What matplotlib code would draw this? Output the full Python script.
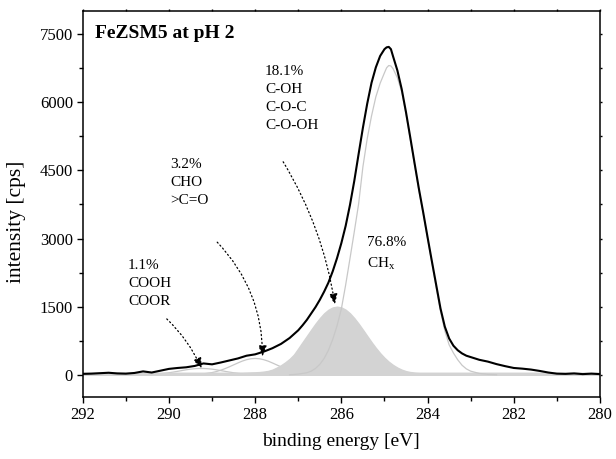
import matplotlib
matplotlib.use('Agg')
import matplotlib.pyplot as plt
from matplotlib.ticker import MultipleLocator

plt.rcParams['font.family'] = ['Liberation Serif', 'DejaVu Serif']
plt.rcParams['mathtext.fontset'] = 'custom'
plt.rcParams['mathtext.rm'] = 'Liberation Serif'

# ── Data (binding energy [eV], intensity [cps]) ───────────────────────────────
env_x = [292.0, 291.8, 291.6, 291.4, 291.2, 291.0, 290.8, 290.6, 290.4, 290.2,
         290.0, 289.8, 289.6, 289.4, 289.2, 289.0, 288.8, 288.6, 288.4, 288.2,
         288.0, 287.8, 287.6, 287.4, 287.2, 287.0, 286.9, 286.8, 286.7, 286.6,
         286.5, 286.4, 286.3, 286.2, 286.1, 286.0, 285.9, 285.8, 285.7, 285.6,
         285.5, 285.4, 285.3, 285.2, 285.1, 285.0, 284.95, 284.9, 284.85, 284.8,
         284.7, 284.6, 284.5, 284.4, 284.3, 284.2, 284.1, 284.0, 283.9, 283.8,
         283.7, 283.6, 283.5, 283.4, 283.3, 283.2, 283.1, 283.0, 282.9, 282.8,
         282.6, 282.4, 282.2, 282.0, 281.8, 281.6, 281.4, 281.2, 281.0, 280.8,
         280.6, 280.4, 280.2, 280.0]
env_y = [20, 25, 35, 45, 30, 25, 40, 75, 50, 90,
         130, 150, 165, 195, 250, 230, 270, 315, 360, 420,
         450, 510, 585, 680, 810, 980, 1090, 1210, 1350, 1490,
         1650, 1830, 2030, 2280, 2570, 2900, 3280, 3740, 4270, 4860,
         5440, 5970, 6430, 6770, 7020, 7170, 7210, 7220, 7170, 7010,
         6700, 6290, 5780, 5220, 4650, 4090, 3570, 3030, 2500, 1980,
         1460, 1060, 800, 640, 540, 470, 420, 390, 360, 330,
         290, 235, 190, 150, 135, 115, 85, 50, 25, 20,
         30, 15, 25, 15]

# CH_x component (76.8 %)
chx_x = [287.2, 287.0, 286.8, 286.7, 286.6, 286.5, 286.4, 286.3, 286.2, 286.1,
         286.0, 285.9, 285.8, 285.7, 285.6, 285.5, 285.4, 285.3, 285.2, 285.1,
         285.0, 284.95, 284.9, 284.85, 284.8, 284.7, 284.6, 284.5, 284.4, 284.3,
         284.2, 284.1, 284.0, 283.9, 283.8, 283.7, 283.6, 283.5, 283.4, 283.3,
         283.2, 283.1, 283.0, 282.8, 282.6, 282.4]
chx_y = [0, 15, 45, 80, 140, 230, 360, 540, 780, 1080,
         1450, 1980, 2560, 3150, 3760, 4580, 5200, 5700, 6120, 6420,
         6650, 6760, 6810, 6800, 6740, 6540, 6230, 5740, 5180, 4610,
         4050, 3540, 3000, 2470, 1920, 1400, 970, 660, 480, 330,
         210, 130, 80, 30, 10, 0]

# C-OH / C-O-C / C-O-OH component (18.1 %), drawn filled
co_x = [292.0, 288.6, 288.4, 288.2, 288.0, 287.9, 287.8, 287.7, 287.6, 287.5,
        287.4, 287.3, 287.2, 287.1, 287.0, 286.9, 286.8, 286.7, 286.6, 286.5,
        286.4, 286.3, 286.2, 286.1, 286.0, 285.9, 285.8, 285.7, 285.6, 285.5,
        285.4, 285.3, 285.2, 285.1, 285.0, 284.9, 284.8, 284.7, 284.6, 284.5,
        284.4, 284.3, 284.2, 284.0, 280.0]
co_y = [45, 45, 45, 50, 55, 60, 70, 85, 113, 158,
        210, 275, 350, 445, 580, 719, 855, 992, 1126, 1248,
        1353, 1433, 1483, 1500, 1483, 1433, 1353, 1248, 1126, 992,
        855, 719, 592, 476, 374, 287, 216, 158, 113, 80,
        60, 50, 45, 45, 45]

# CHO / >C=O component (3.2 %)
cho_x = [289.6, 289.4, 289.2, 289.0, 288.9, 288.8, 288.7, 288.6, 288.5, 288.4,
         288.3, 288.2, 288.1, 288.0, 287.9, 287.8, 287.7, 287.6, 287.5, 287.4,
         287.3, 287.2, 287.1, 287.0, 286.8, 286.6, 286.4]
cho_y = [2, 7, 20, 49, 71, 100, 135, 175, 218, 261,
         301, 332, 353, 360, 353, 332, 301, 261, 218, 175,
         135, 100, 71, 49, 20, 7, 2]

# COOH / COOR component (1.1 %)
cooh_x = [290.6, 290.4, 290.2, 290.0, 289.9, 289.8, 289.7, 289.6, 289.5, 289.4,
          289.3, 289.2, 289.1, 289.0, 288.9, 288.8, 288.7, 288.6, 288.5, 288.3,
          288.1, 287.9]
cooh_y = [2, 10, 23, 45, 60, 76, 93, 110, 124, 134,
          139, 139, 134, 124, 110, 93, 76, 60, 45, 23,
          10, 3]

# ── Figure ────────────────────────────────────────────────────────────────────
fig = plt.figure(figsize=(6.16, 4.59), dpi=100)
ax = fig.add_axes([0.1343, 0.134, 0.8397, 0.841])

grey_fill = '#d3d3d3'
grey_line = '#c8c8c8'

ax.plot(cooh_x, cooh_y, color=grey_line, lw=0.9, zorder=1)
ax.plot(cho_x, cho_y, color=grey_line, lw=0.9, zorder=1)
ax.fill_between(co_x, 0, co_y, facecolor=grey_fill, edgecolor=grey_fill,
                lw=1.0, zorder=2)
ax.plot(chx_x, chx_y, color=grey_line, lw=0.9, zorder=3)
ax.plot(env_x, env_y, color='black', lw=1.5, zorder=4)

# ── Annotations ───────────────────────────────────────────────────────────────
txt = dict(fontsize=11, ha='left', va='top', linespacing=1.5)
ax.text(290.95, 2560, '1.1%\nCOOH\nCOOR', **txt)
ax.text(289.97, 4780, '3.2%\nCHO\n>C=O', **txt)
ax.text(287.77, 6830, '18.1%\nC-OH\nC-O-C\nC-O-OH', **txt)
ax.text(285.41, 3060, '76.8%\nCH$_{\\mathregular{x}}$', **txt)

arrow = dict(arrowstyle='-|>,head_length=0.65,head_width=0.25', color='black',
             lw=0.9, linestyle=(0, (1, 2.2)), mutation_scale=10,
             shrinkA=0, shrinkB=0)
ax.annotate('', xy=(289.24, 130), xytext=(290.05, 1230),
            arrowprops=dict(arrow, connectionstyle='arc3,rad=-0.1'), zorder=5)
ax.annotate('', xy=(287.83, 400), xytext=(288.88, 2920),
            arrowprops=dict(arrow, connectionstyle='arc3,rad=-0.2'), zorder=5)
ax.annotate('', xy=(286.15, 1540), xytext=(287.35, 4690),
            arrowprops=dict(arrow, connectionstyle='arc3,rad=-0.1'), zorder=5)

ax.text(0.024, 0.964, 'FeZSM5 at pH 2', transform=ax.transAxes,
        fontsize=14, fontweight='bold', ha='left', va='top')

# ── Axes styling ──────────────────────────────────────────────────────────────
ax.set_xlim(292, 280)
ax.set_ylim(-500, 8000)
ax.xaxis.set_major_locator(MultipleLocator(2))
ax.xaxis.set_minor_locator(MultipleLocator(1))
ax.yaxis.set_major_locator(MultipleLocator(1500))
ax.yaxis.set_minor_locator(MultipleLocator(750))

for s in ax.spines.values():
    s.set_linewidth(1.1)

ax.tick_params(which='both', direction='out', top=True, right=True,
               labelsize=12, width=1.0)
ax.tick_params(which='major', length=4.5, pad=2.5)
ax.tick_params(which='minor', length=3)
for t in ax.xaxis.get_ticklines(minor=False)[1::2] + ax.xaxis.get_ticklines(minor=True)[1::2]:
    t.set_markersize(1.5)
for t in ax.yaxis.get_ticklines(minor=False)[1::2] + ax.yaxis.get_ticklines(minor=True)[1::2]:
    t.set_markersize(1.5)

ax.set_xlabel('binding energy [eV]', fontsize=14, labelpad=7)
ax.set_ylabel('intensity [cps]', fontsize=15.5)
ax.yaxis.set_label_coords(-0.109, 0.456)

fig.savefig('out.png', dpi=100)
plt.close(fig)
